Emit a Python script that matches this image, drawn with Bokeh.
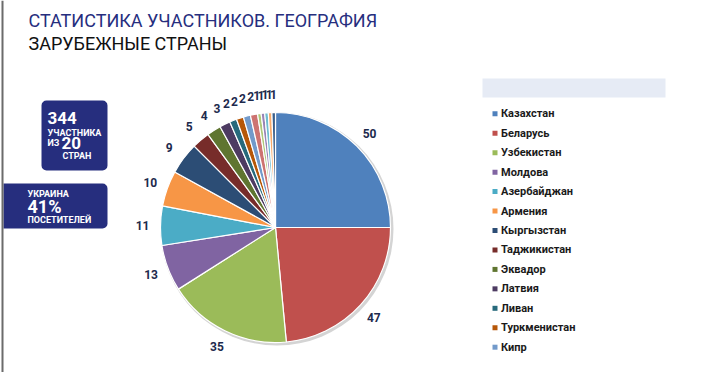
import numpy as np
from bokeh.plotting import figure
from bokeh.models import Range1d, BoxAnnotation, ColumnDataSource
from bokeh.core.properties import value
from bokeh.embed import file_html
from bokeh.resources import INLINE

# ---- data ----
countries = ["Казахстан", "Беларусь", "Узбекистан", "Молдова", "Азербайджан",
             "Армения", "Кыргызстан", "Таджикистан", "Эквадор", "Латвия",
             "Ливан", "Туркменистан", "Кипр", "Грузия", "Германия",
             "Израиль", "Литва", "Эстония", "США"]
participants = [50, 47, 35, 13, 11, 10, 9, 5, 4, 3, 2, 2, 2, 2, 1, 1, 1, 1, 1]
slice_colors = ["#4F81BD", "#C0504D", "#9BBB59", "#8064A2", "#4BACC6",
                "#F79646", "#2C4D75", "#772C2A", "#5F7530", "#4D3B62",
                "#276A7C", "#B65708", "#729ACA", "#CD7371", "#AFC97A",
                "#9983B5", "#6FBDD1", "#F9AB6B", "#3A5F8B"]
legend_count = 13
title_line1 = "СТАТИСТИКА УЧАСТНИКОВ. ГЕОГРАФИЯ"
title_line2 = "ЗАРУБЕЖНЫЕ СТРАНЫ"

W, H = 704, 372
FONT = "Roboto"
NAVY = "#262E7E"

def fy(Y):
    return H - Y

def fx(X):
    return X

p = figure(width=W, height=H, output_backend="svg", toolbar_location=None,
           x_axis_location=None, y_axis_location=None,
           x_range=Range1d(0, W), y_range=Range1d(0, H), min_border=0)
p.grid.visible = False
p.outline_line_color = None
p.background_fill_color = "white"
p.border_fill_color = "white"

# frame line on the left
p.segment(x0=[2], y0=[0], x1=[2], y1=[H], line_color="#6b6b6b", line_width=2)

# ---- titles ----
p.text(x=[fx(28)], y=[fy(20)], text=[title_line1], text_font=value(FONT),
       text_font_size="18px", text_color=NAVY, text_baseline="middle")
p.text(x=[fx(28)], y=[fy(43)], text=[title_line2], text_font=value(FONT),
       text_font_size="18px", text_color="#111111", text_baseline="middle")

# ---- left info boxes ----
p.add_layout(BoxAnnotation(left=fx(41), right=fx(107), top=fy(100), bottom=fy(170),
                           fill_color=NAVY, fill_alpha=1, line_color=None,
                           border_radius=5, level="underlay"))
p.add_layout(BoxAnnotation(left=3, right=fx(107), top=fy(183), bottom=fy(228),
                           fill_color=NAVY, fill_alpha=1, line_color=None,
                           border_radius=dict(top_left=0, bottom_left=0,
                                              top_right=5, bottom_right=5),
                           level="underlay"))

def wtxt(x, y, t, size):
    p.text(x=[fx(x)], y=[fy(y)], text=[t], text_font=value(FONT),
           text_font_size=size, text_font_style="bold", text_color="white",
           text_baseline="middle")

wtxt(47, 117.5, "344", "17px")
wtxt(47, 132, "УЧАСТНИКА", "9px")
wtxt(47, 142.5, "ИЗ", "9px")
wtxt(61, 142.5, "20", "17px")
wtxt(62, 155, "СТРАН", "9px")
wtxt(27, 193, "УКРАИНА", "9px")
wtxt(27, 206, "41%", "18px")
wtxt(27, 219, "ПОСЕТИТЕЛЕЙ", "9px")

# ---- pie ----
cx, cy, R = fx(275), fy(227), 115
vals = np.array(participants, dtype=float)
frac = vals / vals.sum()
cum_end = np.cumsum(frac) * 2 * np.pi
cum_start = cum_end - frac * 2 * np.pi
start = np.pi / 2 - cum_start
end = np.pi / 2 - cum_end
mid = np.pi / 2 - (cum_start + cum_end) / 2

# soft shadow
p.circle(x=[cx + 1.5], y=[cy - 1.5], radius=R + 1.5, fill_color="#d4d4d4",
         line_color=None)

src = ColumnDataSource(dict(start=start, end=end, color=slice_colors,
                            name=countries, val=participants))
p.wedge(x=cx, y=cy, radius=R, start_angle="start", end_angle="end",
        direction="clock", fill_color="color", line_color="white",
        line_width=1.2, source=src)

RL = 133
p.text(x=cx + RL * np.cos(mid), y=cy + RL * np.sin(mid),
       text=[str(v) for v in participants], text_font=value(FONT),
       text_font_size="12px", text_font_style="bold", text_color="#1d2a4d",
       text_align="center", text_baseline="middle")

# ---- legend ----
p.add_layout(BoxAnnotation(left=fx(482), right=fx(665), top=fy(78), bottom=fy(97),
                           fill_color="#E6EBF5", fill_alpha=1, line_color=None,
                           level="underlay"))
idx = np.arange(legend_count)
ly = fy(113.3 + idx * 19.45)
p.scatter(x=[fx(494.5)] * legend_count, y=ly, marker="square", size=5,
          fill_color=slice_colors[:legend_count], line_color=None)
p.text(x=[fx(500.5)] * legend_count, y=ly, text=countries[:legend_count],
       text_font=value(FONT), text_font_size="11px", text_font_style="bold",
       text_color="#1a1a1a", text_baseline="middle")

open("out.html", "w").write(file_html(p, INLINE))
